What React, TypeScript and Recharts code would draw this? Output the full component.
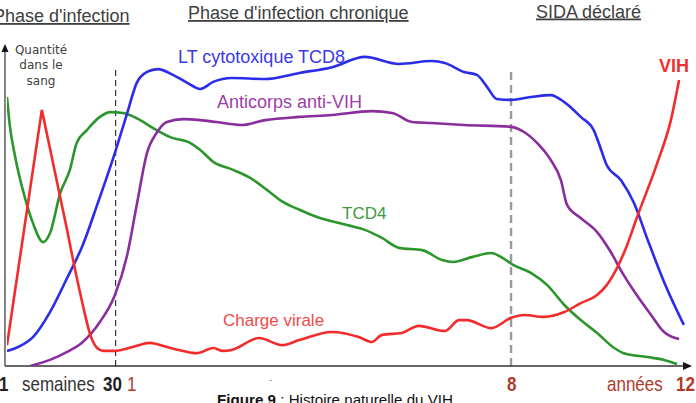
import React from "react";
import { LineChart, Line, XAxis, YAxis, ReferenceLine } from "recharts";

type P = { x: number; y: number };
const pts = (a: number[][]): P[] => a.map(([x, y]) => ({ x, y }));

// x: time progress (0-100), y: quantity in blood (0-100)
const tcd8 = pts([
  [0, 4.7], [1.9, 6.2], [3.8, 9.0], [6.3, 16.8], [8.8, 27.4], [11.1, 37.7], [13.2, 50.2],
  [15.8, 66.4], [17.6, 78.8], [19.0, 88.2], [20.5, 91.6], [22.1, 92.5], [24.3, 90.7],
  [26.4, 88.2], [28.3, 86.3], [30.2, 88.5], [32.9, 89.7], [37.8, 89.4], [42.8, 91.3],
  [47.6, 93.1], [52.4, 96.3], [57.4, 94.1], [62.2, 95.0], [64.1, 94.4], [66.9, 91.6],
  [68.8, 90.7], [70.3, 86.9], [71.7, 83.2], [73.8, 82.9], [76.7, 83.8], [79.6, 84.4],
  [81.6, 82.2], [84.0, 77.6], [85.9, 73.5], [87.0, 67.3], [87.8, 62.6], [89.9, 57.9],
  [91.8, 50.8], [93.7, 39.9], [96.2, 26.2], [99.1, 12.8],
]);

const anticorps = pts([
  [3.4, 0], [6.3, 1.9], [8.8, 4.4], [11.1, 7.5], [13.6, 13.7], [15.8, 22.1], [17.6, 34.6],
  [19.0, 50.2], [20.5, 66.4], [22.0, 72.9], [23.4, 76.0], [25.8, 76.9], [28.3, 76.6],
  [30.7, 76.0], [34.4, 75.1], [37.8, 76.6], [42.8, 77.6], [47.6, 78.2], [53.4, 79.4],
  [56.4, 78.8], [59.3, 76.0], [62.2, 75.7], [66.9, 75.1], [73.8, 74.5], [75.7, 72.9],
  [77.6, 69.5], [79.6, 64.2], [81.1, 57.9], [82.0, 50.2], [84.0, 46.1], [86.4, 41.7],
  [88.4, 35.5], [90.3, 28.3], [92.2, 22.1], [94.3, 15.9], [96.2, 10.6], [98.4, 8.4],
]);

const tcd4 = pts([
  [0, 83.8], [0.4, 75.1], [1.2, 65.1], [2.6, 52.6], [3.8, 44.5], [5.3, 38.6], [6.3, 41.4],
  [7.8, 53.9], [9.2, 61.1], [10.2, 69.5], [11.7, 73.5], [13.6, 77.6], [15.1, 79.1],
  [17.0, 78.8], [19.5, 76.6], [21.4, 74.1], [23.9, 71.3], [26.8, 69.5], [28.3, 67.3],
  [30.2, 63.6], [33.1, 61.1], [35.6, 58.6], [38.1, 54.8], [40.4, 51.1], [42.9, 48.6],
  [45.4, 46.4], [49.8, 43.9], [52.4, 42.4], [54.9, 39.9], [57.4, 36.8], [60.8, 36.1],
  [63.7, 33.0], [65.3, 32.4], [68.2, 34.0], [70.9, 35.2], [72.6, 33.6], [74.1, 31.5],
  [76.7, 29.0], [79.1, 25.2], [81.6, 19.0], [84.0, 14.3], [86.4, 10.3], [88.9, 5.6],
  [90.3, 4.0], [93.7, 2.8], [96.2, 1.9], [98.1, 0.6],
]);

const chargePic = pts([[0, 6.5], [5.1, 79.8], [8.8, 42.4]]);

const chargeVirale = pts([
  [8.8, 42.4], [10.2, 27.7], [11.1, 19.0], [12.2, 9.7], [13.2, 5.6], [14.1, 4.7],
  [15.8, 4.7], [18.4, 5.9], [20.9, 7.2], [23.4, 5.9], [25.8, 4.7], [27.8, 4.0],
  [30.2, 5.6], [31.6, 4.7], [32.9, 5.0], [36.9, 8.7], [40.3, 6.5], [42.8, 8.1],
  [47.6, 10.6], [51.5, 9.0], [53.4, 7.5], [54.9, 9.7], [57.8, 10.3], [60.3, 12.5],
  [64.1, 10.9], [66.2, 14.3], [67.3, 14.3], [70.9, 11.8], [73.8, 15.0], [75.7, 15.9],
  [78.6, 15.3], [81.6, 16.8], [84.0, 19.6], [86.4, 22.1], [87.8, 25.2], [89.3, 30.5],
  [90.8, 37.7], [92.2, 46.1], [95.2, 63.2], [97.2, 76.6], [98.4, 89.1],
]);

const phaseLimits = [15.9, 73.8];
const phaseLabels = ["Phase d'infection", "Phase d'infection chronique", "SIDA déclaré"];
const yAxisLabel = ["Quantité", "dans le", "sang"];

const FONT = "'Liberation Sans', Arial, sans-serif";

const Tall = ({ x, text, bold, fill }: { x: number; text: string; bold?: boolean; fill: string }) => (
  <text transform={`translate(${x},391) scale(1,1.2)`} fontWeight={bold ? "bold" : "normal"} fill={fill}>
    {text}
  </text>
);

export default function App() {
  return (
    <div style={{ position: "absolute", left: 0, top: 0, width: 696, height: 403, background: "#fff", overflow: "hidden" }}>
      <LineChart width={696} height={403} data={tcd8} margin={{ top: 45, right: 6, bottom: 37, left: 7 }}>
        <XAxis dataKey="x" type="number" domain={[0, 100]} hide allowDataOverflow />
        <YAxis type="number" domain={[0, 100]} hide allowDataOverflow />
        <ReferenceLine segment={[{ x: phaseLimits[0], y: 0 }, { x: phaseLimits[0], y: 92.8 }]} stroke="#333" strokeWidth={1.2} strokeDasharray="6 4" ifOverflow="visible" />
        <ReferenceLine segment={[{ x: phaseLimits[1], y: 0 }, { x: phaseLimits[1], y: 92.8 }]} stroke="#9a9a9a" strokeWidth={2.4} strokeDasharray="8 5" ifOverflow="visible" />
        <ReferenceLine segment={[{ x: -0.3, y: 0 }, { x: -0.3, y: 99 }]} stroke="#666" strokeWidth={1.6} ifOverflow="visible" />
        <ReferenceLine segment={[{ x: -0.3, y: 0 }, { x: 99.4, y: 0 }]} stroke="#333" strokeWidth={1.6} ifOverflow="visible" />
        <Line data={tcd4} dataKey="y" type="monotone" stroke="#2b962b" strokeWidth={2.6} dot={false} isAnimationActive={false} />
        <Line data={anticorps} dataKey="y" type="monotone" stroke="#8a2d9e" strokeWidth={2.6} dot={false} isAnimationActive={false} />
        <Line data={tcd8} dataKey="y" type="monotone" stroke="#2b2bea" strokeWidth={2.6} dot={false} isAnimationActive={false} />
        <Line data={chargePic} dataKey="y" type="linear" stroke="#f22b2b" strokeWidth={2.6} dot={false} isAnimationActive={false} />
        <Line data={chargeVirale} dataKey="y" type="monotone" stroke="#f22b2b" strokeWidth={2.6} dot={false} isAnimationActive={false} />
      </LineChart>
      <svg width={696} height={403} style={{ position: "absolute", left: 0, top: 0, pointerEvents: "none" }}>
        <polygon points="5,44 1.5,52 8.5,52" fill="#111" />
        <polygon points="692,366 683,362 683,370" fill="#111" />
        <g fontFamily={FONT} fontSize={18} fill="#404040" textDecoration="underline">
          <text x={-7} y={22}>{phaseLabels[0]}</text>
          <text x={188} y={19}>{phaseLabels[1]}</text>
          <text x={536} y={17.5}>{phaseLabels[2]}</text>
        </g>
        <g fontFamily="'DejaVu Sans', sans-serif" fontSize={12} fill="#404040" textAnchor="middle">
          <text x={41} y={54}>{yAxisLabel[0]}</text>
          <text x={41} y={69}>{yAxisLabel[1]}</text>
          <text x={41} y={85}>{yAxisLabel[2]}</text>
        </g>
        <g fontFamily={FONT}>
          <text x={178} y={63} fontSize={18} fill="#3a3ae8">LT cytotoxique TCD8</text>
          <text x={217} y={108} fontSize={18} fill="#9b3fa8">Anticorps anti-VIH</text>
          <text x={342} y={219} fontSize={17} fill="#3d9a3d">TCD4</text>
          <text x={223} y={326} fontSize={17} fill="#f04a4a">Charge virale</text>
          <text x={659} y={72} fontSize={18} fontWeight="bold" fill="#f03030">VIH</text>
        </g>
        <g fontFamily={FONT} fontSize={17}>
          <Tall x={-1} text="1" bold fill="#222" />
          <Tall x={22} text="semaines" fill="#333" />
          <Tall x={103} text="30" bold fill="#222" />
          <Tall x={127} text="1" fill="#b03a2a" />
          <Tall x={507} text="8" bold fill="#b03a2a" />
          <Tall x={607} text="années" fill="#b03a2a" />
          <Tall x={676} text="12" bold fill="#b03a2a" />
        </g>
        <text x={269} y={383} fontFamily={FONT} fontSize={10} fill="#999">-</text>
        <text x={217} y={405} fontFamily={FONT} fontSize={15} fill="#111" textLength={236} lengthAdjust="spacingAndGlyphs">
          <tspan fontWeight="bold">Figure 9</tspan> : Histoire naturelle du VIH
        </text>
      </svg>
    </div>
  );
}
